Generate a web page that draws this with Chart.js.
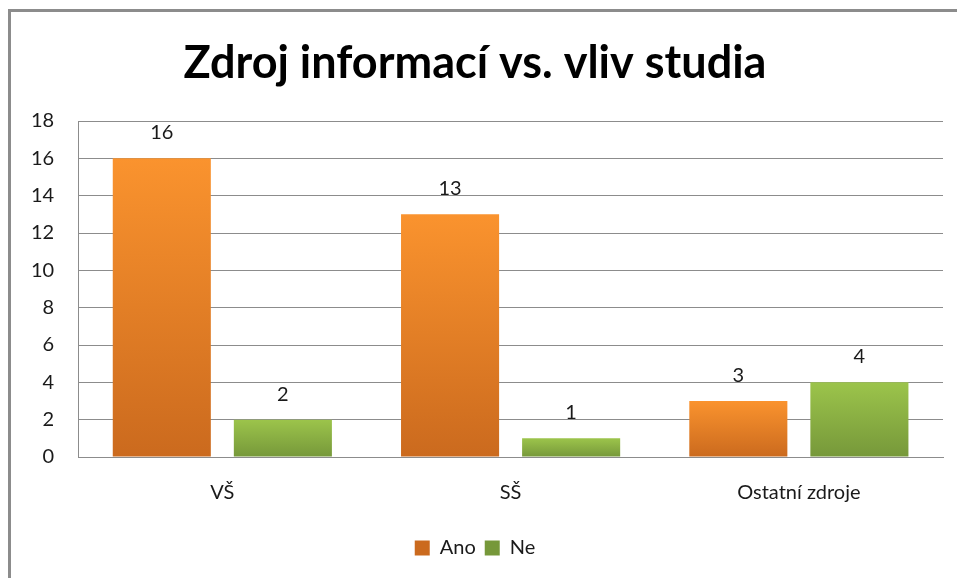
<!DOCTYPE html>
<html>
<head>
<meta charset="utf-8">
<script src="https://cdn.jsdelivr.net/npm/chart.js@4/dist/chart.umd.min.js"></script>
<style>
    html, body { margin: 0; padding: 0; background: #fff; }
    #wrap { position: relative; width: 957px; height: 578px; overflow: hidden; }
    #frame { position: absolute; left: 8px; top: 9px; width: 1000px; height: 700px; border-left: 3px solid #8c8c8c; border-top: 3px solid #8c8c8c; }
    #holder { position: absolute; left: 0; top: 0; width: 957px; height: 578px; }
</style>
</head>
<body>
<div id="wrap">
    <div id="frame"></div>
    <div id="holder"><canvas id="zdrojChart"></canvas></div>
</div>
<script>
// data
const kategorie = ['VŠ', 'SŠ', 'Ostatní zdroje'];
const ano = [16, 13, 3];
const ne = [2, 1, 4];
const osaY = [0, 2, 4, 6, 8, 10, 12, 14, 16, 18];

const pismo = 'Lato, "Noto Sans", sans-serif';

// vertical gradient per bar (light at top, darker at base)
function sloupec(svetla, tmava, stred) {
    return function (ctx) {
        const chart = ctx.chart;
        if (ctx.type !== 'data' || !chart.chartArea) return stred;
        const ys = chart.scales.y;
        const top = ys.getPixelForValue(ctx.parsed.y);
        const base = ys.getPixelForValue(0);
        if (!isFinite(top) || top === base) return stred;
        const g = chart.ctx.createLinearGradient(0, top, 0, base);
        g.addColorStop(0, svetla);
        g.addColorStop(1, tmava);
        return g;
    };
}

// value labels above the bars
const popisky = {
    id: 'popisky',
    afterDatasetsDraw(chart) {
        const c = chart.ctx;
        c.save();
        c.font = '20px ' + pismo;
        c.fillStyle = '#1a1a1a';
        c.textAlign = 'center';
        c.textBaseline = 'alphabetic';
        chart.data.datasets.forEach((ds, i) => {
            chart.getDatasetMeta(i).data.forEach((bar, j) => {
                c.fillText(ds.data[j], bar.x, bar.y - 19);
            });
        });
        c.restore();
    }
};

const ctx = document.getElementById('zdrojChart').getContext('2d');
new Chart(ctx, {
    type: 'bar',
    data: {
        labels: kategorie,
        datasets: [{
            label: 'Ano',
            data: ano,
            backgroundColor: sloupec('#fa932e', '#cb6a1e', '#e27d26'),
            borderWidth: 0
        }, {
            label: 'Ne',
            data: ne,
            backgroundColor: sloupec('#9cc44b', '#76983a', '#89ae42'),
            borderWidth: 0
        }]
    },
    options: {
        responsive: true,
        maintainAspectRatio: false,
        animation: false,
        categoryPercentage: 0.84,
        barPercentage: 0.81,
        layout: {
            padding: { left: 7, right: 14, top: 36, bottom: 10 }
        },
        plugins: {
            title: {
                display: true,
                text: 'Zdroj informací vs. vliv studia',
                color: '#000',
                font: { family: pismo, size: 45, weight: 'bold' },
                padding: { top: 0, bottom: 31 }
            },
            legend: {
                position: 'bottom',
                labels: {
                    color: '#1a1a1a',
                    boxWidth: 15,
                    boxHeight: 15,
                    padding: 9,
                    font: { family: pismo, size: 20 }
                }
            },
            tooltip: { enabled: false }
        },
        scales: {
            y: {
                min: 0,
                max: 18,
                afterBuildTicks(axis) {
                    axis.ticks = osaY.map(v => ({ value: v }));
                },
                ticks: {
                    color: '#1a1a1a',
                    padding: 24,
                    font: { family: pismo, size: 20 }
                },
                grid: {
                    color: '#8c8c8c',
                    drawTicks: false
                },
                border: { color: '#8c8c8c' }
            },
            x: {
                ticks: {
                    color: '#1a1a1a',
                    padding: 24,
                    font: { family: pismo, size: 20 }
                },
                grid: {
                    display: false,
                    drawTicks: false
                },
                border: { color: '#8c8c8c' }
            }
        }
    },
    plugins: [popisky]
});
</script>
</body>
</html>
